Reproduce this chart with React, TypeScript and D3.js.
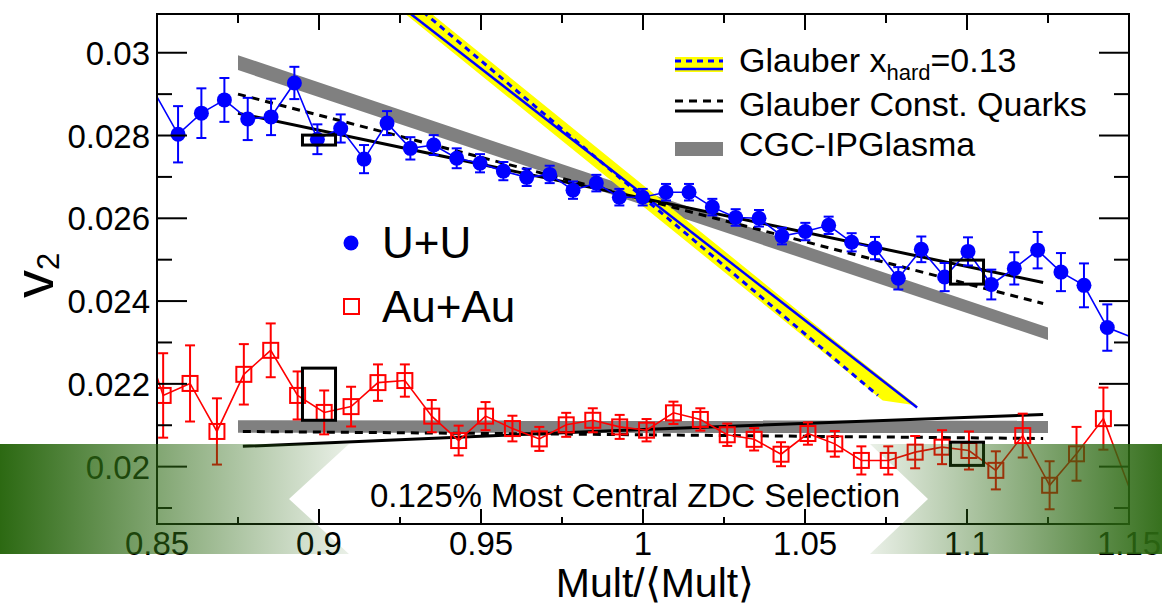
import React from "react";
import * as d3 from "d3";

// ---------- axis data ----------
const X_DOMAIN: [number, number] = [0.85, 1.15];
const Y_DOMAIN: [number, number] = [0.018614, 0.030936];
const xMajorTicks = [0.85, 0.9, 0.95, 1.0, 1.05, 1.1, 1.15];
const xTickLabels = ["0.85", "0.9", "0.95", "1", "1.05", "1.1", "1.15"];
const xMinorTicks = [0.875, 0.925, 0.975, 1.025, 1.075, 1.125];
const yMajorTicks = [0.02, 0.022, 0.024, 0.026, 0.028, 0.03];
const yTickLabels = ["0.02", "0.022", "0.024", "0.026", "0.028", "0.03"];
const yMinorTicks = [0.019, 0.021, 0.023, 0.025, 0.027, 0.029];

// ---------- U+U data ----------
const uuMult = [0.847, 0.8565, 0.8637, 0.8708, 0.878, 0.8852, 0.8924, 0.8995, 0.9067, 0.9139, 0.921,
  0.9282, 0.9354, 0.9425, 0.9497, 0.9569, 0.9641, 0.9712, 0.9784, 0.9856, 0.9927, 0.9999, 1.0071,
  1.0142, 1.0214, 1.0286, 1.0358, 1.0429, 1.0501, 1.0573, 1.0644, 1.0716, 1.0788, 1.0859, 1.0931,
  1.1003, 1.1075, 1.1146, 1.1218, 1.129, 1.1361, 1.1433, 1.155];
const uuV2 = [0.02935, 0.02803, 0.02854, 0.02886, 0.0284, 0.02845, 0.02927, 0.02791, 0.02817, 0.02743,
  0.0283, 0.02769, 0.02777, 0.02745, 0.02733, 0.02714, 0.02699, 0.02706, 0.02668, 0.02685, 0.02651,
  0.02651, 0.02663, 0.02663, 0.02627, 0.02602, 0.026, 0.02557, 0.02568, 0.02583, 0.02542, 0.02528,
  0.02455, 0.02525, 0.02458, 0.0252, 0.0244, 0.02479, 0.02523, 0.0247, 0.02438, 0.02336, 0.023];
const uuErr = [0.0007, 0.00068, 0.0006, 0.00053, 0.00051, 0.00044, 0.00039, 0.00036, 0.00034, 0.00034,
  0.00029, 0.00027, 0.00024, 0.00024, 0.00022, 0.00022, 0.00021, 0.00021, 0.00021, 0.0002, 0.0002,
  0.0002, 0.0002, 0.0002, 0.0002, 0.0002, 0.0002, 0.0002, 0.00021, 0.00021, 0.00022, 0.00027, 0.00027,
  0.00031, 0.00034, 0.00034, 0.00036, 0.00039, 0.00044, 0.00046, 0.00053, 0.00056, 0.0006];

// ---------- Au+Au data ----------
const auMult = [0.846, 0.8519, 0.8602, 0.8685, 0.8768, 0.8851, 0.8934, 0.9016, 0.9099, 0.9182, 0.9265,
  0.9348, 0.9431, 0.9514, 0.9597, 0.968, 0.9763, 0.9845, 0.9928, 1.0011, 1.0094, 1.0177, 1.026, 1.0343,
  1.0426, 1.0509, 1.0592, 1.0674, 1.0757, 1.084, 1.0923, 1.1006, 1.1089, 1.1172, 1.1255, 1.1338, 1.1421,
  1.1534];
const auV2 = [0.0231, 0.02172, 0.02201, 0.02085, 0.02223, 0.02281, 0.02172, 0.02131, 0.02145, 0.02203,
  0.02208, 0.02122, 0.02063, 0.02122, 0.02092, 0.02067, 0.02101, 0.02112, 0.02096, 0.02088, 0.0213,
  0.02114, 0.02077, 0.02066, 0.0203, 0.0208, 0.02055, 0.02015, 0.02015, 0.02035, 0.02047, 0.02039,
  0.01991, 0.02075, 0.01955, 0.02031, 0.02116, 0.0188];
const auErr = [0.0011, 0.00102, 0.00092, 0.0008, 0.00073, 0.00065, 0.00058, 0.00053, 0.00048, 0.00044,
  0.00039, 0.00039, 0.00036, 0.00034, 0.00031, 0.00029, 0.00029, 0.00029, 0.00029, 0.00027, 0.00027,
  0.00027, 0.00027, 0.00027, 0.00029, 0.00027, 0.00031, 0.00034, 0.00034, 0.00039, 0.00041, 0.00046,
  0.00046, 0.00053, 0.00058, 0.00065, 0.00075, 0.0008];

// ---------- systematic boxes ----------
const sysMult = [0.9, 1.1];
const sysHalfWidth = 0.0051;
const uuSys = [0.02789, 0.0247];
const uuSysErr = [0.00012, 0.00029];
const auSys = [0.02175, 0.02031];
const auSysErr = [0.00063, 0.00028];

// ---------- models ----------
const cgcMult = [0.875, 1.125];
const cgcUU = [0.02976, 0.02321];
const cgcUUHalf = [0.00018, 0.00015];
const cgcAu = [0.02097, 0.02096];
const cgcAuHalf = [0.00015, 0.00015];

const cqUUMult = [0.875, 1.1235];
const cqUUDash = [0.029, 0.02394];
const cqUUSolid = [0.02854, 0.02445];
const cqAuMult = [0.8765, 1.0, 1.1235];
const cqAuDash = [0.02085, 0.02077, 0.02068];
const cqAuSolid = [0.02049, 0.0209, 0.02126];

const hardSolidMult = [0.875, 1.0846];
const hardSolid = [0.03418, 0.02143];
const hardDashMult = [0.875, 1.0725];
const hardDash = [0.03476, 0.02172];
const hardBandHiMult = [0.875, 1.06, 1.0846];
const hardBandHi = [0.03473, 0.023, 0.02148];
const hardBandLoMult = [0.875, 1.074];
const hardBandLo = [0.03421, 0.0216];

const FONT = "'Liberation Sans', Arial, Helvetica, sans-serif";
const BLUE = "#0000ff";
const RED = "#ff0000";

type P = [number, number];
const zip = (a: number[], b: number[]): P[] => a.map((v, i) => [v, b[i]] as P);

export default function App() {
  const L = 157, R = 1129, T = 14, B = 524;
  const x = d3.scaleLinear().domain(X_DOMAIN).range([L, R]);
  const y = d3.scaleLinear().domain(Y_DOMAIN).range([B, T]);
  const line = d3.line<P>().x((d) => x(d[0])).y((d) => y(d[1]));
  const band = (m: number[], c: number[], h: number[]) =>
    d3.area<number>().x((_, i) => x(m[i])).y0((_, i) => y(c[i] - h[i])).y1((_, i) => y(c[i] + h[i]))(m) || "";

  const hardPoly =
    (line([...zip(hardBandHiMult, hardBandHi), ...zip(hardBandLoMult, hardBandLo).reverse()]) || "") + "Z";

  const capW = 5;
  const errorBars = (m: number[], v: number[], e: number[], color: string) =>
    m.map((mv, i) => {
      const cx = x(mv);
      const y0 = y(v[i] - e[i]);
      const y1 = y(v[i] + e[i]);
      return (
        <g key={i} stroke={color} strokeWidth={2}>
          <line x1={cx} x2={cx} y1={y0} y2={y1} />
          <line x1={cx - capW} x2={cx + capW} y1={y0} y2={y0} />
          <line x1={cx - capW} x2={cx + capW} y1={y1} y2={y1} />
        </g>
      );
    });

  return (
    <div style={{ position: "absolute", left: 0, top: 0 }}>
      <svg width={1162} height={608} style={{ display: "block", background: "#fff" }} fontFamily={FONT}>
        <defs>
          <clipPath id="plotClip">
            <rect x={L} y={T} width={R - L} height={B - T} />
          </clipPath>
          <linearGradient id="gLeft" gradientUnits="userSpaceOnUse" x1={0} y1={0} x2={349} y2={0}>
            <stop offset="0" stopColor="#2c6912" stopOpacity={1} />
            <stop offset="1" stopColor="#2c6912" stopOpacity={0.1} />
          </linearGradient>
          <linearGradient id="gRight" gradientUnits="userSpaceOnUse" x1={870} y1={0} x2={1162} y2={0}>
            <stop offset="0" stopColor="#2c6912" stopOpacity={0.1} />
            <stop offset="1" stopColor="#2c6912" stopOpacity={0.95} />
          </linearGradient>
        </defs>

        <g clipPath="url(#plotClip)">
          {/* CGC bands */}
          <path d={band(cgcMult, cgcUU, cgcUUHalf)} fill="#808080" />
          <path d={band(cgcMult, cgcAu, cgcAuHalf)} fill="#808080" />
          {/* Glauber x_hard */}
          <path d={hardPoly} fill="#ffff00" />
          <path d={line(zip(hardSolidMult, hardSolid)) || ""} stroke={BLUE} strokeWidth={2.5} fill="none" />
          <path d={line(zip(hardDashMult, hardDash)) || ""} stroke={BLUE} strokeWidth={3} strokeDasharray="6,5" fill="none" />
          {/* Glauber constituent quarks */}
          <path d={line(zip(cqUUMult, cqUUSolid)) || ""} stroke="#000" strokeWidth={3} fill="none" />
          <path d={line(zip(cqUUMult, cqUUDash)) || ""} stroke="#000" strokeWidth={3} strokeDasharray="8,6" fill="none" />
          <path d={line(zip(cqAuMult, cqAuSolid)) || ""} stroke="#000" strokeWidth={3} fill="none" />
          <path d={line(zip(cqAuMult, cqAuDash)) || ""} stroke="#000" strokeWidth={3} strokeDasharray="8,6" fill="none" />

          {/* Au+Au */}
          <path d={line(zip(auMult, auV2)) || ""} stroke={RED} strokeWidth={1.6} fill="none" />
          {errorBars(auMult, auV2, auErr, RED)}
          {auMult.map((m, i) => (
            <rect key={i} x={x(m) - 7.5} y={y(auV2[i]) - 7.5} width={15} height={15} fill="none" stroke={RED} strokeWidth={2} />
          ))}

          {/* U+U */}
          <path d={line(zip(uuMult, uuV2)) || ""} stroke={BLUE} strokeWidth={1.6} fill="none" />
          {errorBars(uuMult, uuV2, uuErr, BLUE)}
          {uuMult.map((m, i) => (
            <circle key={i} cx={x(m)} cy={y(uuV2[i])} r={7.5} fill={BLUE} />
          ))}

          {/* systematic boxes */}
          {sysMult.map((m, i) => (
            <g key={i} fill="none" stroke="#000" strokeWidth={3}>
              <rect x={x(m - sysHalfWidth)} y={y(uuSys[i] + uuSysErr[i])} width={x(m + sysHalfWidth) - x(m - sysHalfWidth)} height={y(uuSys[i] - uuSysErr[i]) - y(uuSys[i] + uuSysErr[i])} />
              <rect x={x(m - sysHalfWidth)} y={y(auSys[i] + auSysErr[i])} width={x(m + sysHalfWidth) - x(m - sysHalfWidth)} height={y(auSys[i] - auSysErr[i]) - y(auSys[i] + auSysErr[i])} />
            </g>
          ))}
        </g>

        {/* frame and ticks */}
        <rect x={L} y={T} width={R - L} height={B - T} fill="none" stroke="#000" strokeWidth={2} />
        <g stroke="#000" strokeWidth={2}>
          {xMajorTicks.map((t, i) => (
            <g key={"xm" + i}>
              <line x1={x(t)} x2={x(t)} y1={B} y2={B - 15} />
              <line x1={x(t)} x2={x(t)} y1={T} y2={T + 16} />
            </g>
          ))}
          {xMinorTicks.map((t, i) => (
            <g key={"xn" + i}>
              <line x1={x(t)} x2={x(t)} y1={B} y2={B - 7} />
              <line x1={x(t)} x2={x(t)} y1={T} y2={T + 9} />
            </g>
          ))}
          {yMajorTicks.map((t, i) => (
            <g key={"ym" + i}>
              <line x1={L} x2={L + 30} y1={y(t)} y2={y(t)} />
              <line x1={R} x2={R - 30} y1={y(t)} y2={y(t)} />
            </g>
          ))}
          {yMinorTicks.map((t, i) => (
            <g key={"yn" + i}>
              <line x1={L} x2={L + 15} y1={y(t)} y2={y(t)} />
              <line x1={R} x2={R - 15} y1={y(t)} y2={y(t)} />
            </g>
          ))}
        </g>
        {/* tick labels */}
        <g fontSize={33} fill="#000">
          {yMajorTicks.map((t, i) => (
            <text key={i} x={150} y={y(t) + 12} textAnchor="end">{yTickLabels[i]}</text>
          ))}
          {xMajorTicks.map((t, i) => (
            <text key={i} x={x(t)} y={555} textAnchor="middle">{xTickLabels[i]}</text>
          ))}
        </g>
        {/* axis titles */}
        <text x={655} y={597} fontSize={41} textAnchor="middle">Mult/⟨Mult⟩</text>
        <text transform="translate(53,298) rotate(-90)" fontSize={56}>
          v<tspan fontSize={31} dy={6}>2</tspan>
        </text>

        {/* legend: data */}
        <circle cx={351} cy={243} r={7.5} fill={BLUE} />
        <text x={382} y={258} fontSize={44}>U+U</text>
        <rect x={344} y={299} width={15} height={15} fill="none" stroke={RED} strokeWidth={2} />
        <text x={382} y={322} fontSize={44}>Au+Au</text>

        {/* legend: models */}
        <rect x={675} y={57} width={48} height={15} fill="#ffff00" />
        <line x1={675} x2={723} y1={61} y2={61} stroke={BLUE} strokeWidth={3} strokeDasharray="6,5" />
        <line x1={675} x2={723} y1={69} y2={69} stroke={BLUE} strokeWidth={2.5} />
        <text x={739} y={72} fontSize={34}>
          Glauber x<tspan fontSize={22} dy={8}>hard</tspan><tspan dy={-8}>=0.13</tspan>
        </text>
        <line x1={675} x2={723} y1={101} y2={101} stroke="#000" strokeWidth={3} strokeDasharray="8,6" />
        <line x1={675} x2={723} y1={111} y2={111} stroke="#000" strokeWidth={3} />
        <text x={739} y={116} fontSize={34}>Glauber Const. Quarks</text>
        <rect x={675} y={142} width={48} height={14} fill="#808080" />
        <text x={739} y={156} fontSize={34}>CGC-IPGlasma</text>

        {/* green selection banner */}
        <path d="M0,444 L349,444 L289,499 L349,554 L0,554 Z" fill="url(#gLeft)" />
        <path d="M870,444 L1162,444 L1162,554 L870,554 L928,499 Z" fill="url(#gRight)" />
        <text x={370} y={507} fontSize={33} fill="#000">0.125% Most Central ZDC Selection</text>
      </svg>
    </div>
  );
}
